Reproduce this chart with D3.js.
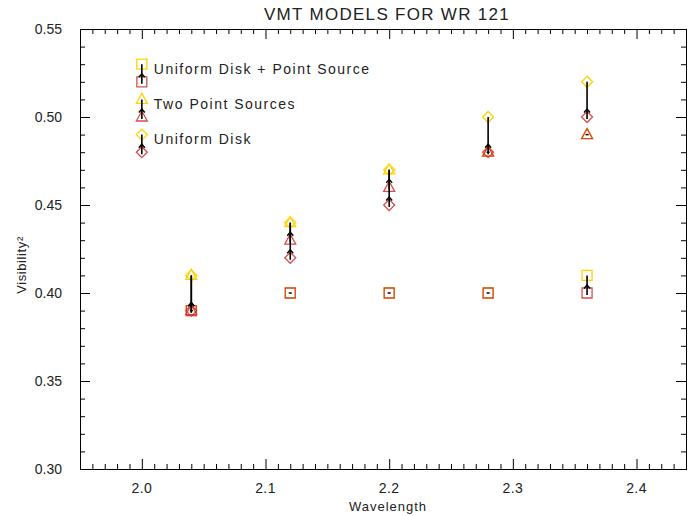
<!DOCTYPE html>
<html><head><meta charset="utf-8">
<script src="https://cdn.jsdelivr.net/npm/d3@7"></script>
<style>body{margin:0;background:#fff} svg{display:block}</style>
</head><body><svg id="chart" width="691" height="516"></svg>
<script>
// Wavelengths (microns) of the five spectral channels
const wavelengths = [2.04, 2.12, 2.20, 2.28, 2.36];
// Uniform disk + point source: upper (yellow) and lower (red) V^2
const udpsUpper = [0.39, 0.40, 0.40, 0.40, 0.41];
const udpsLower = [0.39, 0.40, 0.40, 0.40, 0.40];
// Two point sources
const tpsUpper = [0.41, 0.44, 0.47, 0.48, 0.49];
const tpsLower = [0.39, 0.43, 0.46, 0.48, 0.49];
// Uniform disk
const udUpper = [0.41, 0.44, 0.47, 0.50, 0.52];
const udLower = [0.39, 0.42, 0.45, 0.48, 0.50];
// Key entries, drawn in data coordinates
const legendNames = ["Uniform Disk + Point Source", "Two Point Sources", "Uniform Disk"];
const legendX = 2.0;
const legendUpper = [0.53, 0.51, 0.49];
const legendLower = [0.52, 0.50, 0.48];
// Axis ticks
const xMajorTicks = [2.0, 2.1, 2.2, 2.3, 2.4];
const yMajorTicks = [0.30, 0.35, 0.40, 0.45, 0.50, 0.55];

const YELLOW = "#ffd200", RED = "#cc3030";
const svg = d3.select("#chart");
const pLeft = 80, pRight = 686, pTop = 29, pBottom = 469;
const x = d3.scaleLinear().domain([1.95, 2.44]).range([pLeft, pRight]);
const y = d3.scaleLinear().domain([0.30, 0.55]).range([pBottom, pTop]);

const xMinor = d3.range(195, 245).map(v => v / 100).filter(v => !xMajorTicks.some(t => Math.abs(t - v) < 1e-9));
const yMinor = d3.range(30, 56).map(v => v / 100).filter(v => !yMajorTicks.some(t => Math.abs(t - v) < 1e-9));

const font = "'Liberation Sans', Arial, sans-serif";

// Frame and tick marks (all inward)
function axisGroup(axis, tx, ty) {
  const g = svg.append("g").attr("transform", `translate(${tx},${ty})`).call(axis);
  g.select(".domain").remove();
  g.selectAll(".tick line").attr("stroke", "#000").attr("stroke-width", 1);
  return g;
}
axisGroup(d3.axisBottom(x).tickValues(xMinor).tickSize(-5).tickFormat(""), 0, pBottom);
axisGroup(d3.axisBottom(x).tickValues(xMajorTicks).tickSize(-10).tickFormat(""), 0, pBottom);
axisGroup(d3.axisTop(x).tickValues(xMinor).tickSize(-5).tickFormat(""), 0, pTop);
axisGroup(d3.axisTop(x).tickValues(xMajorTicks).tickSize(-10).tickFormat(""), 0, pTop);
axisGroup(d3.axisLeft(y).tickValues(yMinor).tickSize(-5).tickFormat(""), pLeft, 0);
axisGroup(d3.axisLeft(y).tickValues(yMajorTicks).tickSize(-10).tickFormat(""), pLeft, 0);
axisGroup(d3.axisRight(y).tickValues(yMinor).tickSize(-5).tickFormat(""), pRight, 0);
axisGroup(d3.axisRight(y).tickValues(yMajorTicks).tickSize(-10).tickFormat(""), pRight, 0);

svg.append("rect").attr("x", pLeft + 0.5).attr("y", pTop + 0.5)
  .attr("width", pRight - pLeft).attr("height", pBottom - pTop)
  .attr("fill", "none").attr("stroke", "#000").attr("stroke-width", 1);

// Tick labels
svg.append("g").selectAll("text").data(xMajorTicks).join("text")
  .attr("x", d => x(d)).attr("y", pBottom + 24)
  .attr("text-anchor", "middle").attr("font-family", font).attr("font-size", 14)
  .attr("letter-spacing", 0.4).attr("fill", "#222").text(d => d.toFixed(1));
svg.append("g").selectAll("text").data(yMajorTicks).join("text")
  .attr("x", pLeft - 18).attr("y", d => y(d) + 5)
  .attr("text-anchor", "end").attr("font-family", font).attr("font-size", 14)
  .attr("fill", "#222").text(d => d.toFixed(2));

// Titles
svg.append("text").attr("x", 387).attr("y", 20).attr("text-anchor", "middle")
  .attr("font-family", font).attr("font-size", 17).attr("letter-spacing", 1.3)
  .attr("fill", "#222").text("VMT MODELS FOR WR 121");
svg.append("text").attr("x", 388).attr("y", 511).attr("text-anchor", "middle")
  .attr("font-family", font).attr("font-size", 13).attr("letter-spacing", 1)
  .attr("fill", "#222").text("Wavelength");
svg.append("text").attr("transform", "translate(26,265) rotate(-90)").attr("text-anchor", "middle")
  .attr("font-family", font).attr("font-size", 13).attr("letter-spacing", 0.6)
  .attr("fill", "#222").text("Visibility²");

// Marker shapes
const shapes = {
  square: "M-5,-5H5V5H-5Z",
  triangle: "M0,-6L5.5,4H-5.5Z",
  diamond: "M0,-5.5L5.5,0L0,5.5L-5.5,0Z"
};

const plot = svg.append("g");
const series = [
  { shape: "square", upper: udpsUpper, lower: udpsLower },
  { shape: "triangle", upper: tpsUpper, lower: tpsLower },
  { shape: "diamond", upper: udUpper, lower: udLower }
];
const legend = legendNames.map((name, i) => ({ name, shape: series[i].shape, upper: legendUpper[i], lower: legendLower[i] }));

function markers(pts, shape, color, opacity) {
  plot.append("g").selectAll("path").data(pts).join("path")
    .attr("d", shapes[shape])
    .attr("transform", d => `translate(${x(d[0])},${y(d[1])})`)
    .attr("fill", "none").attr("stroke", color).attr("stroke-width", 1.3)
    .attr("stroke-opacity", opacity);
}

function arrows(pts) {
  // pts: [wavelength, lower, upper]
  const g = plot.append("g").attr("stroke", "#000").attr("fill", "none");
  pts.forEach(([w, lo, hi]) => {
    const cx = x(w), y0 = y(lo), y1 = y(hi);
    if (Math.abs(y0 - y1) < 0.5) {
      g.append("line").attr("x1", cx - 1.5).attr("x2", cx + 1.5)
        .attr("y1", y0).attr("y2", y0).attr("stroke-width", 1.5);
      return;
    }
    g.append("line").attr("x1", cx).attr("x2", cx).attr("y1", y0 + 2).attr("y2", y1)
      .attr("stroke-width", 1.6);
    const tip = y0 - 8;
    g.append("path").attr("d", `M${cx - 3},${tip + 3.5}L${cx},${tip}L${cx + 3},${tip + 3.5}`)
      .attr("stroke-width", 1.4);
  });
}

// Upper (yellow) marks first, lower (red) on top
series.forEach(s => markers(wavelengths.map((w, i) => [w, s.upper[i]]), s.shape, YELLOW, 1));
legend.forEach(l => markers([[legendX, l.upper]], l.shape, YELLOW, 1));
series.forEach(s => markers(wavelengths.map((w, i) => [w, s.lower[i]]), s.shape, RED, 0.85));
legend.forEach(l => markers([[legendX, l.lower]], l.shape, RED, 0.85));

series.forEach(s => arrows(wavelengths.map((w, i) => [w, s.lower[i], s.upper[i]])));
arrows(legend.map(l => [legendX, l.lower, l.upper]));

// Key labels
svg.append("g").selectAll("text").data(legend).join("text")
  .attr("x", x(legendX) + 12).attr("y", d => y((d.upper + d.lower) / 2) + 1)
  .attr("font-family", font).attr("font-size", 14).attr("letter-spacing", 1.5)
  .attr("fill", "#222").text(d => d.name);
</script>
</body></html>
